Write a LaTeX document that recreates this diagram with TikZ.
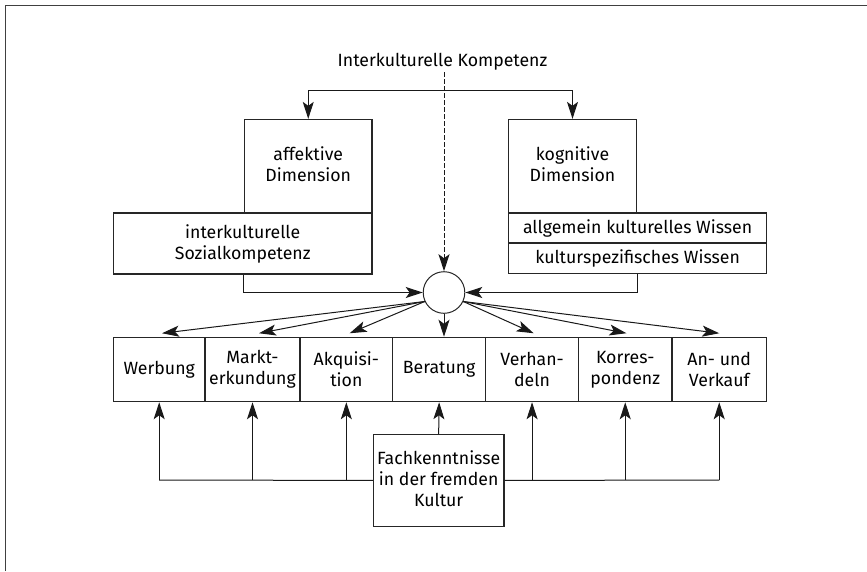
\documentclass[tikz,border=0pt]{standalone}
\usepackage{fontspec}
\setmainfont{Fira Sans}
\usetikzlibrary{arrows.meta,calc}
\begin{document}
\begin{tikzpicture}[x=1pt,y=-1pt,
  lbl/.style={font=\fontsize{17.7}{21}\selectfont, align=center},
  box/.style={draw=black!85, line width=1.1pt, inner sep=0pt, lbl},
  raised/.style={text depth=#1},
  link/.style={line width=1pt, black!90},
  arr/.style={link, -{Stealth[length=17pt,width=11pt,inset=4pt]}},
]
\useasboundingbox (0,0) rectangle (867,571);
% frame lines at the top and left
\draw[line width=1.8pt, black!75] (5.5,571) -- (5.5,5.5) -- (867,5.5);

% heading
\node[lbl, inner sep=2pt] (title) at (442.5,61.5) {Interkulturelle Kompetenz};

% the two dimensions
\node[box, raised=4.5pt, minimum width=127.5pt, minimum height=93.6pt] (affekt) at (308.25,166.2) {affektive\\Dimension};
\node[box, minimum width=258.6pt, minimum height=61pt] (sozial) at (242.7,243.5) {interkulturelle\\Sozialkompetenz};
\node[box, raised=4.5pt, minimum width=128pt, minimum height=93.6pt] (kogn) at (572.5,166.2) {kognitive\\Dimension};
\node[box, minimum width=258.2pt, minimum height=30pt] (allg) at (637.6,228) {allgemein kulturelles Wissen};
\node[box, minimum width=258.2pt, minimum height=30.5pt] (spez) at (637.6,258.25) {kulturspezifisches Wissen};

% junction
\node[draw=black!85, line width=1pt, circle, minimum size=41.6pt, inner sep=0pt] (c) at (444,292.5) {};

% fields of application
\foreach \n/\x/\w/\t in {
  w1/159.2/91.6/{Werbung},
  w2/252.5/95/{Markt-\\erkundung},
  w3/346.35/92.7/{Akquisi-\\tion},
  w4/439.15/92.9/{Beratung},
  w5/532.05/92.9/{Verhan-\\deln},
  w6/625.25/93.5/{Korres-\\pondenz},
  w7/719.25/94.5/{An- und\\Verkauf}}
  \node[box, minimum width=\w pt, minimum height=64.4pt] (\n) at (\x,369.5) {\t};

\node[box, raised=4.5pt, fill=white, minimum width=130.7pt, minimum height=92.1pt] (fach) at (438.65,480.45) {Fachkenntnisse\\in der fremden\\Kultur};

% split from the heading into both dimensions
\coordinate (bar) at (444,90.7);
\draw[link] (bar -| affekt.north) -- (bar -| kogn.north);
\draw[arr] (bar -| affekt.north) -- (affekt.north);
\draw[arr] (bar -| kogn.north) -- (kogn.north);
\draw[arr, dash pattern=on 4.5pt off 2.5pt] (title.south -| c.north) -- (c.north);

% both dimensions feed the junction
\draw[arr] (affekt.west |- sozial.south) |- (c.west);
\draw[arr] (kogn.east |- spez.south) |- (c.east);

% junction to the fields
\draw[arr] (c.205) -- ($(w1.north)+(2.8,-3.5)$);
\draw[arr] (c.205) -- ($(w2.north)+(6.5,-3.5)$);
\draw[arr] (c.205) -- ($(w3.north)+(3.3,-3.5)$);
\draw[arr] (c.south) -- (c.south |- w4.north);
\draw[arr] (c.335) -- ($(w5.north)+(1.6,-3.5)$);
\draw[arr] (c.335) -- ($(w6.north)+(1.2,-3.5)$);
\draw[arr] (c.335) -- ($(w7.north)+(0,-3.5)$);

% specialist knowledge supports every field
\coordinate (base) at (438.65,480);
\draw[link] (base -| w1.south) -- (fach.west);
\draw[link] (fach.east) -- (base -| w7.south);
\foreach \n in {w1,w2,w3,w5,w6,w7}
  \draw[arr] (base -| \n.south) -- (\n.south);
\draw[arr] (fach.north) -- (w4.south);
\end{tikzpicture}
\end{document}
